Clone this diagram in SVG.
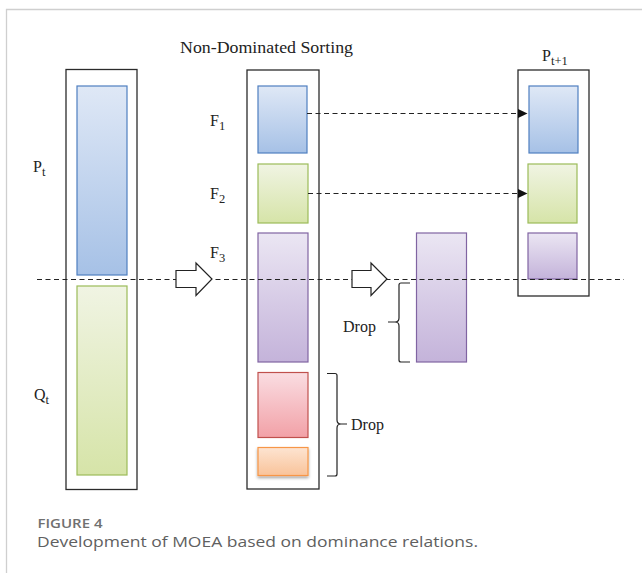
<svg xmlns="http://www.w3.org/2000/svg" width="642" height="573" viewBox="0 0 642 573">
<style>
.box{fill:#fff;stroke:#2b2b2b;stroke-width:1.3}
.lbl{font-family:"Liberation Serif",serif;font-size:16px;fill:#222}
.sub{font-size:12.5px}
.blue{fill:url(#gBlue);stroke:#4f7fc0;stroke-width:1.2}
.green{fill:url(#gGreen);stroke:#9bbb59;stroke-width:1.2}
.purple{fill:url(#gPurple);stroke:#8064a2;stroke-width:1.2}
.red{fill:url(#gRed);stroke:#c0504d;stroke-width:1.2}
.orange{fill:url(#gOrange);stroke:#f79646;stroke-width:1.2}
.dash{stroke:#222;stroke-width:1.2;stroke-dasharray:5,3.5;fill:none}
.big{fill:#fff;stroke:#222;stroke-width:1.2}
.brace{fill:none;stroke:#222;stroke-width:1.2}
</style>
<defs>
<linearGradient id="gBlue" x1="0" y1="0" x2="0" y2="1"><stop offset="0" stop-color="#dfe8f6"/><stop offset="1" stop-color="#a6c1e6"/></linearGradient>
<linearGradient id="gGreen" x1="0" y1="0" x2="0" y2="1"><stop offset="0" stop-color="#f0f4e3"/><stop offset="1" stop-color="#d6e4a8"/></linearGradient>
<linearGradient id="gPurple" x1="0" y1="0" x2="0" y2="1"><stop offset="0" stop-color="#ebe6f3"/><stop offset="1" stop-color="#c4b3da"/></linearGradient>
<linearGradient id="gRed" x1="0" y1="0" x2="0" y2="1"><stop offset="0" stop-color="#fadde2"/><stop offset="1" stop-color="#f2a1a7"/></linearGradient>
<linearGradient id="gOrange" x1="0" y1="0" x2="0" y2="1"><stop offset="0" stop-color="#fde4d1"/><stop offset="1" stop-color="#f9c39a"/></linearGradient>
<filter id="shadow" x="-20%" y="-20%" width="140%" height="160%"><feDropShadow dx="0" dy="2" stdDeviation="1.5" flood-color="#000" flood-opacity="0.35"/></filter>
<marker id="ah" markerWidth="10" markerHeight="10" refX="9" refY="5" orient="auto" markerUnits="userSpaceOnUse"><path d="M0,0.5 L9.5,5 L0,9.5 Z" fill="#111"/></marker>
</defs>
<rect width="642" height="573" fill="#fff"/>
<g id="frame" fill="none" stroke="#cfcfcf" stroke-width="1.3">
<path d="M642,9.5 H6.5 V573"/>
</g>
<g id="title"><text class="lbl" x="180" y="53" textLength="173" lengthAdjust="spacingAndGlyphs">Non-Dominated Sorting</text></g>

<g id="population">
<rect class="box" x="66" y="69.5" width="71" height="420"/>
<rect class="blue" x="77" y="86" width="50" height="189"/>
<rect class="green" x="77" y="286" width="50" height="189"/>
<text class="lbl" x="33" y="172">P<tspan class="sub" dy="4">t</tspan></text>
<text class="lbl" x="34" y="400">Q<tspan class="sub" dy="4">t</tspan></text>
</g>

<g id="sorted">
<rect class="box" x="247" y="70" width="72" height="419"/>
<rect class="blue" x="258" y="86" width="49" height="67"/>
<rect class="green" x="258" y="164" width="50" height="59"/>
<rect class="purple" x="258" y="233" width="50" height="129"/>
<rect class="red" x="258" y="372.5" width="50" height="65"/>
<rect class="orange" x="258" y="447.5" width="50" height="28" filter="url(#shadow)"/>
<text class="lbl" x="210" y="126">F<tspan class="sub" dy="4">1</tspan></text>
<text class="lbl" x="210" y="199">F<tspan class="sub" dy="4">2</tspan></text>
<text class="lbl" x="210" y="258">F<tspan class="sub" dy="4">3</tspan></text>
</g>

<g id="f3-split">
<rect class="purple" x="416.5" y="233" width="50" height="129"/>
</g>

<g id="next">
<rect class="box" x="518" y="70" width="71" height="226"/>
<rect class="blue" x="529" y="86" width="49" height="67"/>
<rect class="green" x="528" y="164" width="49" height="59"/>
<rect class="purple" x="528" y="233" width="49" height="46"/>
<text class="lbl" x="542" y="61">P<tspan class="sub" dy="4">t+1</tspan></text>
</g>

<g id="drop1">
<path class="brace" d="M410,283 H401 Q399,283 399,285 V318 Q399,322 395,322 H388 M395,322 Q399,322 399,326 V360 Q399,362 401,362 H410"/>
<text class="lbl" x="343" y="332">Drop</text>
</g>
<g id="drop2">
<path class="brace" d="M327,373.5 H335 Q337,373.5 337,375.5 V420 Q337,424 341,424 H347 M341,424 Q337,424 337,428 V474 Q337,476 335,476 H327"/>
<text class="lbl" x="351" y="430">Drop</text>
</g>

<g id="connectors">
<line class="dash" x1="37" y1="279.5" x2="624" y2="279.5"/>
<line class="dash" x1="307" y1="113.5" x2="527" y2="113.5" marker-end="url(#ah)"/>
<line class="dash" x1="308" y1="193.5" x2="527" y2="193.5" marker-end="url(#ah)"/>
<path class="big" d="M176,270.5 H196 V263 L212,279 L196,295.5 V287.5 H176 Z"/>
<path class="big" d="M352,270.5 H371 V263 L387,279 L371,295.5 V287.5 H352 Z"/>
</g>

<g id="caption" font-family="'Open Sans','Noto Sans',sans-serif">
<text x="37.5" y="528" font-size="13" font-weight="600" textLength="65" lengthAdjust="spacingAndGlyphs" fill="#707070">FIGURE 4</text>
<text x="37" y="547" font-size="14" textLength="441" lengthAdjust="spacingAndGlyphs" fill="#606060">Development of MOEA based on dominance relations.</text>
</g>
</svg>
